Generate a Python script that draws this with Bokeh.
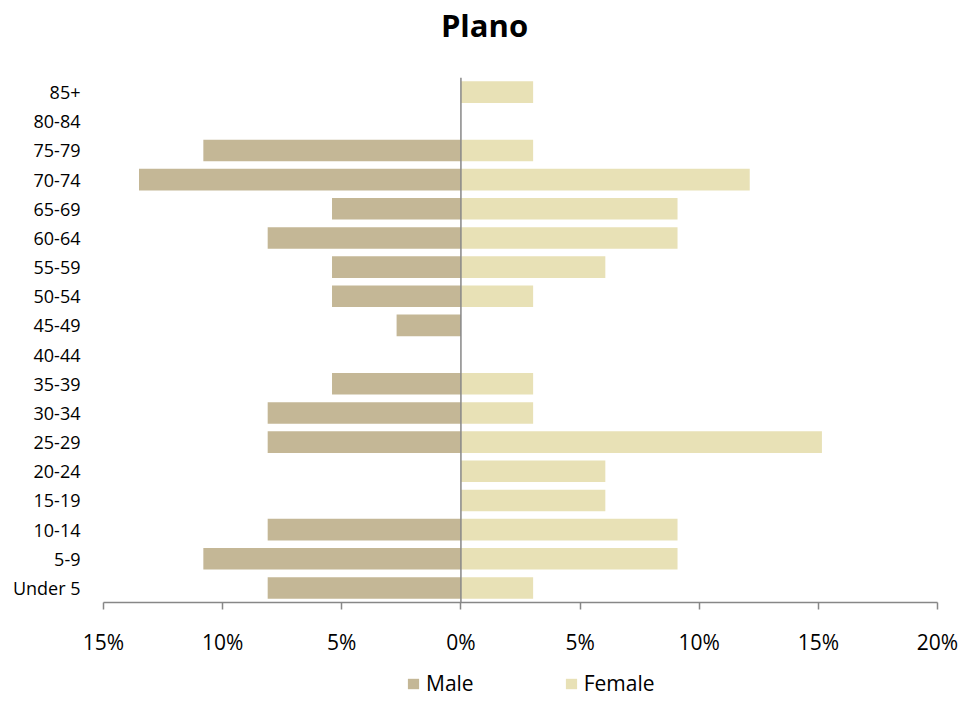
from bokeh.plotting import figure
from bokeh.layouts import column
from bokeh.models import (ColumnDataSource, FactorRange, Range1d, Span, Legend, LegendItem,
                          FixedTicker, CustomJSTickFormatter, Label)
from bokeh.embed import file_html
from bokeh.resources import INLINE

# ---- data (bottom to top) ----
age_groups = ["Under 5", "5-9", "10-14", "15-19", "20-24", "25-29", "30-34", "35-39",
              "40-44", "45-49", "50-54", "55-59", "60-64", "65-69", "70-74", "75-79",
              "80-84", "85+"]
male_pct = [8.11, 10.81, 8.11, 0, 0, 8.11, 8.11, 5.41, 0, 2.70, 5.41, 5.41, 8.11, 5.41,
            13.51, 10.81, 0, 0]
female_pct = [3.03, 9.09, 9.09, 6.06, 6.06, 15.15, 3.03, 3.03, 0, 0, 3.03, 6.06, 9.09, 9.09,
              12.12, 3.03, 0, 3.03]
x_ticks = [-15, -10, -5, 0, 5, 10, 15, 20]
title_text = "Plano"
series_names = ["Male", "Female"]

MALE_COLOR = "#C4B796"
FEMALE_COLOR = "#E8E1B6"
GRAY = "#878787"
FONT = "Open Sans"
W = 963
FL, FR = 103, 937   # plot frame left / right (page pixels)

# ---------------- title strip ----------------
pt = figure(width=W, height=60, output_backend="svg", toolbar_location=None,
            x_range=Range1d(FL, FR), y_range=Range1d(0, 60), min_border=0,
            x_axis_type=None, y_axis_type=None)
pt.outline_line_color = None
pt.xgrid.visible = False
pt.ygrid.visible = False
pt.add_layout(Label(x=484, y=36, text=title_text, text_font=FONT, text_font_style="bold",
                    text_font_size="31px", text_align="center", text_baseline="middle",
                    text_color="black"))

# ---------------- main chart ----------------
src = ColumnDataSource(dict(age=age_groups,
                            male=[-v for v in male_pct],
                            female=female_pct))

p = figure(width=W, height=600, output_backend="svg", toolbar_location=None,
           y_range=FactorRange(factors=age_groups), x_range=Range1d(-15, 20),
           min_border_left=FL, min_border_right=W - FR, min_border_top=17,
           min_border_bottom=58)

p.hbar(y="age", right="male", left=0, height=0.74, source=src,
       fill_color=MALE_COLOR, line_color=None)
p.hbar(y="age", right="female", left=0, height=0.74, source=src,
       fill_color=FEMALE_COLOR, line_color=None)

p.add_layout(Span(location=0, dimension="height", line_color=GRAY, line_width=1.5))

p.outline_line_color = None
p.xgrid.visible = False
p.ygrid.visible = False

xa = p.xaxis[0]
xa.ticker = FixedTicker(ticks=x_ticks)
xa.formatter = CustomJSTickFormatter(code="return Math.abs(tick) + '%';")
xa.axis_line_color = GRAY
xa.axis_line_width = 1.5
xa.major_tick_line_color = GRAY
xa.major_tick_line_width = 1.5
xa.major_tick_out = 7
xa.major_tick_in = 0
xa.minor_tick_line_color = None
xa.major_label_text_font = FONT
xa.major_label_text_font_size = "21px"
xa.major_label_text_color = "black"
xa.major_label_standoff = 18

ya = p.yaxis[0]
ya.axis_line_color = None
ya.major_tick_line_color = None
ya.minor_tick_line_color = None
ya.major_tick_out = 0
ya.major_tick_in = 0
ya.major_label_text_font = FONT
ya.major_label_text_font_size = "18px"
ya.major_label_text_color = "black"
ya.major_label_standoff = 23

# ---------------- legend strip ----------------
pl = figure(width=W, height=37, output_backend="svg", toolbar_location=None,
            x_range=Range1d(0, 10), y_range=Range1d(0, 10), min_border=0,
            x_axis_type=None, y_axis_type=None)
pl.outline_line_color = None
pl.xgrid.visible = False
pl.ygrid.visible = False
# swatch renderers kept out of view; only their legend glyphs show
lm = pl.hbar(y=[-50], right=[1], left=[0], height=1, fill_color=MALE_COLOR, line_color=None)
lf = pl.hbar(y=[-50], right=[1], left=[0], height=1, fill_color=FEMALE_COLOR, line_color=None)
legend = Legend(items=[LegendItem(label=series_names[0], renderers=[lm]),
                       LegendItem(label=series_names[1], renderers=[lf])],
                orientation="horizontal", location=(406 - FL, 0),
                border_line_color=None, background_fill_alpha=0,
                glyph_width=14, glyph_height=13, label_standoff=6, spacing=90,
                label_text_font=FONT, label_text_font_size="21px",
                label_text_color="black",
                label_height=13, padding=0, margin=0)
pl.add_layout(legend)

layout = column(pt, p, pl, spacing=0)
open("out.html", "w").write(file_html(layout, INLINE))
